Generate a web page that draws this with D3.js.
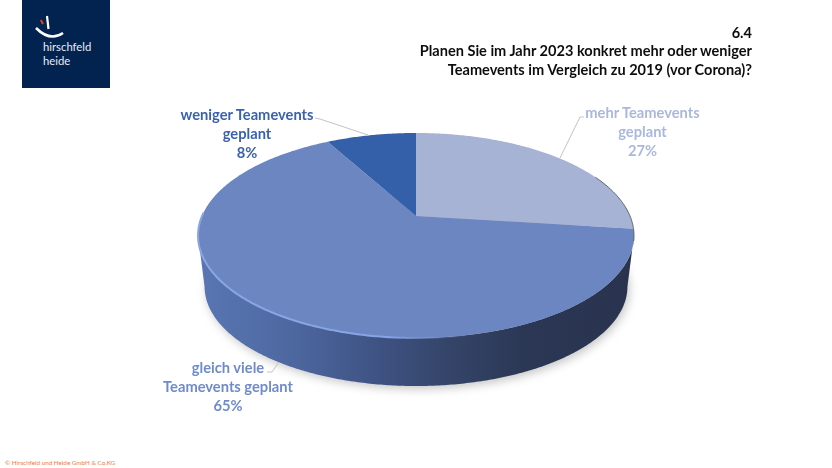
<!DOCTYPE html>
<html><head><meta charset="utf-8">
<script src="https://cdn.jsdelivr.net/npm/d3@7/dist/d3.min.js"></script>
<style>html,body{margin:0;padding:0;background:#fff}svg{display:block}text{font-family:Lato,"Open Sans",sans-serif}</style>
</head><body><svg id="c" width="832" height="468"></svg>
<script>
const categories = ["mehr Teamevents geplant", "gleich viele Teamevents geplant", "weniger Teamevents geplant"];
const values = [27, 65, 8];
const labelLines = [["mehr Teamevents","geplant"],["gleich viele","Teamevents geplant"],["weniger Teamevents","geplant"]];
const titleLines = ["6.4","Planen Sie im Jahr 2023 konkret mehr oder weniger","Teamevents im Vergleich zu 2019 (vor Corona)?"];
const logoLines = ["hirschfeld","heide"];
const footer = "© Hirschfeld und Heide GmbH & Co.KG";

const sliceColors = ["#a7b3d4","#6c86c1","#345fa9"];
const labelColors = ["#aab8dc","#6f8bc9","#3a62ae"];
const labelPos = [{x:642.5,y:118},{x:228,y:373},{x:247,y:120}];
const leaders = [
  [[560,158],[580,117],[584,117]],
  [[279,362],[272,372],[267,372]],
  [[368,135],[320,119],[315,118]]
];

const svg = d3.select("#c");
const defs = svg.append("defs");
const grad = defs.append("linearGradient").attr("id","wall").attr("gradientUnits","userSpaceOnUse")
  .attr("x1",198).attr("x2",634).attr("y1",0).attr("y2",0);
[[0,"#5a76b3"],[.2,"#4e69a2"],[.42,"#3e5282"],[.58,"#344468"],[.75,"#2b3755"],[1,"#29334e"]]
  .forEach(s=>grad.append("stop").attr("offset",s[0]).attr("stop-color",s[1]));
const rimGrad = defs.append("linearGradient").attr("id","rim").attr("gradientUnits","userSpaceOnUse")
  .attr("x1",198).attr("x2",470).attr("y1",0).attr("y2",0);
[[0,"#8aa6e2",1],[.7,"#86a4e6",1],[1,"#6c86c1",0]]
  .forEach(s=>rimGrad.append("stop").attr("offset",s[0]).attr("stop-color",s[1]).attr("stop-opacity",s[2]));
defs.append("filter").attr("id","blur").attr("x","-20%").attr("y","-20%").attr("width","140%").attr("height","140%")
  .append("feGaussianBlur").attr("stdDeviation",5);
defs.append("filter").attr("id","soft").append("feGaussianBlur").attr("stdDeviation",0.3);

// Perspective disc: maps pie angle and radius to the screen
const cx = 416, cy = 216, persp = 0.19, B = 214, A = 98.8, depthY = 51.7, depthS = 0.97;
function project(theta, r, level){
  const u = r*Math.sin(theta), v = r*Math.cos(theta), w = 1 + persp*v;
  const s = level ? depthS : 1, off = level ? depthY : 0;
  return [cx + s*B*u/w, cy + off - s*A*v/w];
}
const line = d3.line();
const pie = d3.pie().sort(null).value(d=>d);
const arcs = pie(values);
const rim = (a0,a1,level) => {
  const n = Math.max(2, Math.ceil((a1-a0)/0.01));
  return d3.range(n+1).map(i => project(a0+(a1-a0)*i/n, 1, level));
};
const deg = Math.PI/180;

// shadow under the disc
svg.append("path").attr("d", line(rim(0,2*Math.PI,1).map(p=>[p[0]+2,p[1]+3])))
  .attr("fill","#a8a8a8").attr("opacity",.65).attr("filter","url(#blur)");

// wall (only the front part of the large slice is visible)
const main = arcs[1];
const a0 = Math.max(main.startAngle, 101*deg), a1 = Math.min(main.endAngle, 259*deg);
svg.append("path").attr("d", line(rim(a0,a1,0).concat(rim(a0,a1,1).reverse()))+"Z").attr("fill","url(#wall)");

// top slices
svg.append("g").selectAll("path").data(arcs).join("path")
  .attr("d", d => line([[cx,cy]].concat(rim(d.startAngle,d.endAngle,0)))+"Z")
  .attr("fill",(d,i)=>sliceColors[i]);

// rim lights
svg.append("path").attr("d", line(rim(150*deg,272*deg,0))).attr("fill","none").attr("stroke","url(#rim)").attr("stroke-width",2);
svg.append("path").attr("d", line(rim(65*deg,104*deg,0))).attr("fill","none").attr("stroke","#59606f").attr("stroke-width",1);

// leaders
svg.append("g").selectAll("path").data(leaders).join("path")
  .attr("d",d=>line(d)).attr("fill","none").attr("stroke","#c4c4c4").attr("stroke-width",1);

// data labels
const lab = svg.append("g").attr("filter","url(#soft)").selectAll("text").data(arcs).join("text")
  .attr("text-anchor","middle").attr("font-size",14.7).attr("font-weight",700)
  .attr("fill",(d,i)=>labelColors[i]);
lab.each(function(d,i){
  const t = d3.select(this);
  labelLines[i].concat(values[i]+"%").forEach((s,j)=>t.append("tspan").attr("x",labelPos[i].x).attr("y",labelPos[i].y+j*19).text(s));
});

// title
svg.append("g").attr("filter","url(#soft)").selectAll("text").data(titleLines).join("text")
  .attr("x",752).attr("y",(d,i)=>37.7+i*18.7).attr("text-anchor","end")
  .attr("font-size",14.55).attr("font-weight",700).attr("fill","#111").text(d=>d);

// logo
const logo = svg.append("g");
logo.append("rect").attr("x",22).attr("y",0).attr("width",88).attr("height",88).attr("fill","#02224f");
logo.append("path").attr("d","M36,28 Q50,42 63,33").attr("fill","none").attr("stroke","#fff").attr("stroke-width",2.6);
logo.append("path").attr("d","M47,16 L48.5,29").attr("fill","none").attr("stroke","#fff").attr("stroke-width",2.2);
logo.append("path").attr("d","M40.8,20 L43,24").attr("fill","none").attr("stroke","#e2451f").attr("stroke-width",2);
logo.selectAll("text").data(logoLines).join("text").attr("x",43).attr("y",(d,i)=>51+i*14)
  .attr("font-size",11.3).attr("fill","#e8ecf3").text(d=>d);

// footer
svg.append("text").attr("x",5).attr("y",465).attr("font-size",6.3).attr("fill","#ef7a45").text(footer);
</script></body></html>
